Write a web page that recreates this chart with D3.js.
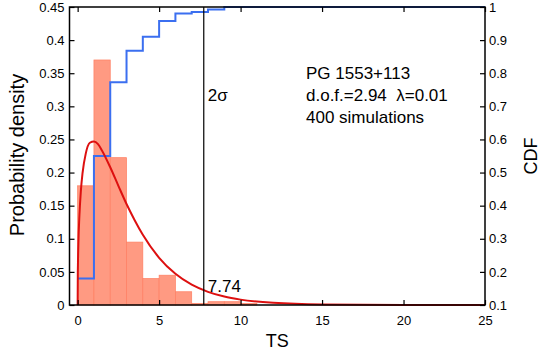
<!DOCTYPE html>
<html><head><meta charset="utf-8">
<script src="https://cdn.jsdelivr.net/npm/d3@7/dist/d3.min.js"></script>
<style>body{margin:0;background:#fff}svg{display:block}text{font-family:"Liberation Sans",Arial,sans-serif}</style>
</head><body>
<svg id="c" width="541" height="356"></svg>
<script>
// histogram of simulated TS (bin width 1, starting at 0)
const binStart = [0,1,2,3,4,5,6,7,8,9,10];
const density  = [0.18,0.37,0.2225,0.095,0.04,0.045,0.02,0.0025,0.005,0.005,0.0025];
// empirical CDF (step after each bin)
const cdfX = [0,1,2,3,4,5,6,7,8,9,25];
const cdfV = [0.18,0.55,0.7725,0.8675,0.91,0.9575,0.98,0.985,0.9925,1.0,1.0];
// fitted chi-square curve
const curveX = [0,0.01,0.02,0.05,0.1,0.2,0.3,0.5,0.75,1,1.25,1.5,2,2.5,3,3.5,4,5,6,7,8,9,10,12,15,20,25];
const curveY = [0,0.046,0.064,0.097,0.131,0.173,0.199,0.229,0.245,0.247,0.243,0.233,0.208,0.180,0.1525,0.128,0.106,0.0713,0.0471,0.0307,0.0199,0.0127,0.0081,0.0033,0.0008,0.0001,0];
const sigmaTS = 7.74;
const xTicks = [0,5,10,15,20,25];
const yTicks = [0,0.05,0.1,0.15,0.2,0.25,0.3,0.35,0.4,0.45];
const cdfTicks = [0.1,0.2,0.3,0.4,0.5,0.6,0.7,0.8,0.9,1];
const infoLines = ["PG 1553+113","d.o.f.=2.94  \u03bb=0.01","400 simulations"];

const L=69.5, R=485, T=7, B=305;
const svg = d3.select("#c");
const x = d3.scaleLinear().domain([-0.5,25]).range([L,R]);
const y = d3.scaleLinear().domain([0,0.45]).range([B,T]);
const y2 = d3.scaleLinear().domain([0.1,1]).range([B,T]);

// bars
svg.append("g").selectAll("rect").data(binStart).join("rect")
  .attr("x",d=>x(d)).attr("width",x(1)-x(0))
  .attr("y",(d,i)=>y(density[i])).attr("height",(d,i)=>B-y(density[i]))
  .attr("fill","#ff9a82").attr("stroke","#ff7f62").attr("stroke-width",0.7);

// CDF
svg.append("path").datum(cdfX.map((d,i)=>[d,cdfV[i]]))
  .attr("d",d3.line().x(d=>x(d[0])).y(d=>y2(d[1])).curve(d3.curveStepAfter))
  .attr("fill","none").attr("stroke","#3b6ff0").attr("stroke-width",2);

// chi2 curve
svg.append("path").datum(curveX.map((d,i)=>[d,curveY[i]]))
  .attr("d",d3.line().x(d=>x(d[0])).y(d=>y(d[1])).curve(d3.curveMonotoneX))
  .attr("fill","none").attr("stroke","#dd1010").attr("stroke-width",2);

// 2 sigma line
svg.append("line").attr("x1",x(sigmaTS)).attr("x2",x(sigmaTS)).attr("y1",B).attr("y2",T)
  .attr("stroke","#000").attr("stroke-width",1.2);

// axes
const fs = "13px";
const gB = svg.append("g").attr("transform",`translate(0,${B})`)
  .call(d3.axisBottom(x).tickValues(xTicks).tickSizeInner(-5).tickSizeOuter(0).tickPadding(11).tickFormat(d3.format("d")));
const gT = svg.append("g").attr("transform",`translate(0,${T})`)
  .call(d3.axisTop(x).tickValues(xTicks).tickSizeInner(-5).tickSizeOuter(0).tickFormat(""));
const gL = svg.append("g").attr("transform",`translate(${L},0)`)
  .call(d3.axisLeft(y).tickValues(yTicks).tickSizeInner(-5).tickSizeOuter(0).tickPadding(5).tickFormat(d=>d===0?"0":String(+d.toFixed(2))));
const gR = svg.append("g").attr("transform",`translate(${R},0)`)
  .call(d3.axisRight(y2).tickValues(cdfTicks).tickSizeInner(-5).tickSizeOuter(0).tickPadding(4).tickFormat(d=>String(+d.toFixed(1))));
[gB,gT,gL,gR].forEach(g=>{
  g.select(".domain").remove();
  g.selectAll("line").attr("stroke","#000").attr("stroke-width",1.2);
  g.selectAll("text").attr("font-size",fs).attr("fill","#000").attr("font-family","Liberation Sans, Arial, sans-serif");
});

// frame
svg.append("rect").attr("x",L).attr("y",T).attr("width",R-L).attr("height",B-T)
  .attr("fill","none").attr("stroke","#000").attr("stroke-width",1.5);

// labels
svg.append("text").attr("x",(L+R)/2).attr("y",347).attr("text-anchor","middle").attr("font-size","18px").text("TS");
svg.append("text").attr("transform",`translate(24,155) rotate(-90)`).attr("text-anchor","middle").attr("font-size","20px").text("Probability density");
svg.append("text").attr("transform",`translate(537,156) rotate(-90)`).attr("text-anchor","middle").attr("font-size","18px").text("CDF");

svg.append("text").attr("x",x(sigmaTS)+4).attr("y",101).attr("font-size","17px").text("2\u03c3");
svg.append("text").attr("x",x(sigmaTS)+4).attr("y",292).attr("font-size","17px").text(String(sigmaTS));
svg.append("g").selectAll("text").data(infoLines).join("text")
  .attr("x",306).attr("y",(d,i)=>79+i*22).attr("font-size","17px").attr("xml:space","preserve").style("white-space","pre").text(d=>d);
</script>
</body></html>
